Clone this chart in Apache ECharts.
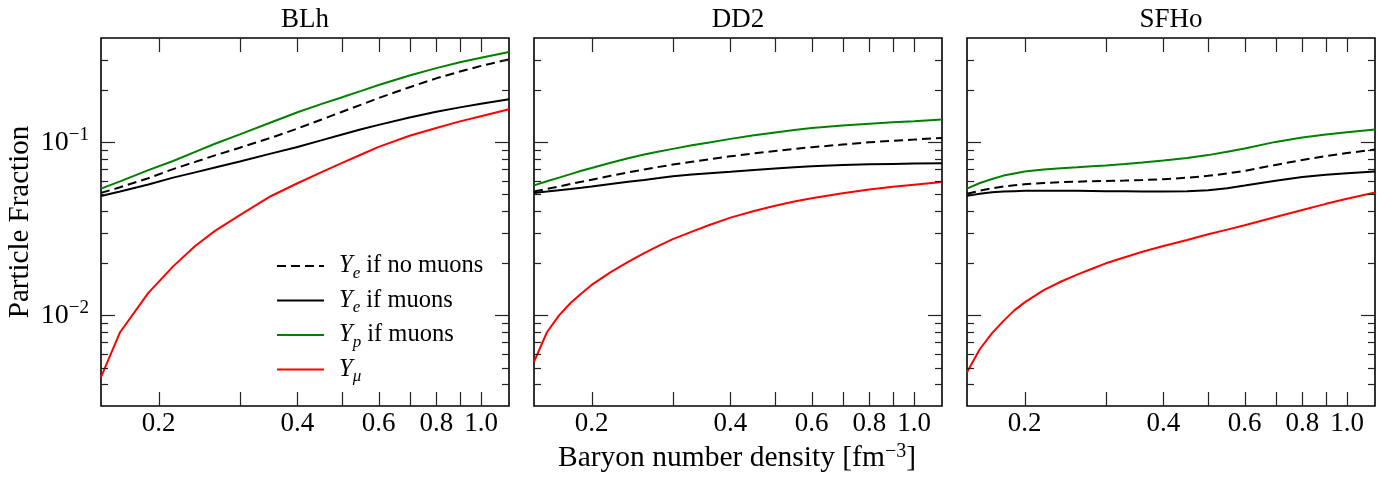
<!DOCTYPE html>
<html><head><meta charset="utf-8">
<script src="https://cdn.jsdelivr.net/npm/echarts@6/dist/echarts.min.js"></script>
<style>html,body{margin:0;padding:0;background:#fff}#c{width:1390px;height:477px}</style>
</head><body><div id="c"></div>
<script>
// ---------- data ----------
const blhDensities = [0.15, 0.165, 0.19, 0.215, 0.24, 0.265, 0.3, 0.35, 0.4, 0.45, 0.5, 0.55, 0.6, 0.7, 0.8, 0.9, 1.0, 1.15];
const densities = [0.15, 0.16, 0.17, 0.18, 0.19, 0.2, 0.22, 0.24, 0.26, 0.28, 0.3, 0.33, 0.36, 0.4, 0.45, 0.5, 0.55, 0.6, 0.7, 0.8, 0.9, 1.0, 1.15];
const panelTitles = ['BLh', 'DD2', 'SFHo'];
const seriesNames = ['ye_nomu', 'ye_mu', 'yp_mu', 'ymu'];
const legendLabels = ['{i|Y}{s|e} if no muons', '{i|Y}{s|e} if muons', '{i|Y}{s|p} if muons', '{i|Y}{s|μ}'];

// BLh (x = blhDensities)
const blhYeNoMuons = [0.051, 0.055, 0.062, 0.070, 0.077, 0.084, 0.093, 0.106, 0.120, 0.135, 0.150, 0.165, 0.180, 0.208, 0.234, 0.256, 0.276, 0.301];
const blhYeMuons   = [0.049, 0.052, 0.057, 0.0625, 0.067, 0.0715, 0.0775, 0.086, 0.094, 0.1025, 0.111, 0.119, 0.126, 0.139, 0.150, 0.159, 0.167, 0.177];
const blhYpMuons   = [0.054, 0.0595, 0.069, 0.078, 0.088, 0.098, 0.111, 0.130, 0.149, 0.166, 0.182, 0.198, 0.214, 0.243, 0.268, 0.290, 0.308, 0.332];
const blhYmu       = [0.0044, 0.0080, 0.0135, 0.0192, 0.0252, 0.0308, 0.038, 0.0488, 0.058, 0.067, 0.076, 0.085, 0.094, 0.109, 0.121, 0.132, 0.1415, 0.155];
// DD2 (x = densities)
const dd2YeNoMuons = [0.0520, 0.0538, 0.0556, 0.0574, 0.0591, 0.0608, 0.0640, 0.0670, 0.0697, 0.0721, 0.0743, 0.0772, 0.0797, 0.0830, 0.0862, 0.0890, 0.0915, 0.0936, 0.0970, 0.1000, 0.1020, 0.1036, 0.1060];
const dd2YeMuons   = [0.0509, 0.0519, 0.0529, 0.0538, 0.0547, 0.0556, 0.0574, 0.0591, 0.0606, 0.0621, 0.0636, 0.0651, 0.0663, 0.0676, 0.0692, 0.0706, 0.0717, 0.0726, 0.0738, 0.0746, 0.0750, 0.0753, 0.0756];
const dd2YpMuons   = [0.0564, 0.0595, 0.0625, 0.0655, 0.0684, 0.0711, 0.0762, 0.0808, 0.0849, 0.0884, 0.0916, 0.0960, 0.0998, 0.1046, 0.1098, 0.1140, 0.1178, 0.1210, 0.1250, 0.1280, 0.1305, 0.1324, 0.1353];
const dd2Ymu       = [0.0054, 0.0080, 0.0100, 0.0118, 0.0134, 0.0150, 0.0178, 0.0204, 0.0229, 0.0253, 0.0276, 0.0305, 0.0333, 0.0367, 0.0401, 0.0430, 0.0455, 0.0475, 0.0508, 0.0534, 0.0553, 0.0569, 0.0590];
// SFHo (x = densities)
const sfhoYeNoMuons = [0.0505, 0.0525, 0.0542, 0.0555, 0.0565, 0.0572, 0.0582, 0.0588, 0.0592, 0.0596, 0.0598, 0.0601, 0.0605, 0.0612, 0.0624, 0.0640, 0.0660, 0.0684, 0.0740, 0.0790, 0.0832, 0.0866, 0.0907];
const sfhoYeMuons   = [0.0491, 0.0505, 0.0514, 0.0519, 0.0522, 0.0524, 0.0525, 0.0525, 0.0524, 0.0523, 0.0522, 0.0521, 0.0520, 0.0520, 0.0522, 0.0529, 0.0543, 0.0562, 0.0600, 0.0630, 0.0650, 0.0663, 0.0679];
const sfhoYpMuons   = [0.0540, 0.0582, 0.0614, 0.0642, 0.0661, 0.0677, 0.0696, 0.0707, 0.0717, 0.0727, 0.0735, 0.0749, 0.0763, 0.0784, 0.0811, 0.0843, 0.0881, 0.0921, 0.1005, 0.1065, 0.1108, 0.1142, 0.1184];
const sfhoYmu       = [0.0047, 0.0064, 0.0079, 0.0093, 0.0107, 0.0119, 0.0140, 0.0157, 0.0172, 0.0186, 0.0200, 0.0217, 0.0233, 0.0252, 0.0273, 0.0294, 0.0313, 0.0332, 0.0370, 0.0406, 0.0441, 0.0472, 0.0513];

// axis ranges and ticks
const X_MIN = 0.15, X_MAX = 1.15;
const Y_MIN = 0.003, Y_MAX = 0.4;
const xTickValues = [0.2, 0.3, 0.4, 0.5, 0.6, 0.7, 0.8, 0.9, 1.0];
const xTickLabels = ['0.2', '', '0.4', '', '0.6', '', '0.8', '', '1.0'];
const yMajorTicks = [0.01, 0.1];
const yMajorExponents = ['−2', '−1'];
const yMinorTicks = [0.004, 0.005, 0.006, 0.007, 0.008, 0.009, 0.02, 0.03, 0.04, 0.05, 0.06, 0.07, 0.08, 0.09, 0.2, 0.3];

// ---------- layout / style ----------
const FONT = '"Liberation Serif", "Times New Roman", serif';
const GRID_LEFT = [101, 534, 967];
const GRID_W = 408, GRID_TOP = 38, GRID_H = 368;
const TICK_X = 14, TICK_MAJOR = 14, TICK_MINOR = 7;
const TICK_COLOR = '#222';
const COLORS = ['#000000', '#000000', '#008000', '#ff0000'];
const DASHES = [[9, 5], 'solid', 'solid', 'solid'];

const panels = [
  {x: blhDensities, ys: [blhYeNoMuons, blhYeMuons, blhYpMuons, blhYmu]},
  {x: densities, ys: [dd2YeNoMuons, dd2YeMuons, dd2YpMuons, dd2Ymu]},
  {x: densities, ys: [sfhoYeNoMuons, sfhoYeMuons, sfhoYpMuons, sfhoYmu]}
];

const grids = [], xAxes = [], yAxes = [], series = [];
panels.forEach((p, pi) => {
  grids.push({left: GRID_LEFT[pi], top: GRID_TOP, width: GRID_W, height: GRID_H,
    show: true, borderColor: '#000', borderWidth: 1.6, backgroundColor: 'transparent', containLabel: false});
  xAxes.push({type: 'log', logBase: 10, gridIndex: pi, min: X_MIN, max: X_MAX,
    axisLine: {show: false}, axisTick: {show: false}, axisLabel: {show: false}, splitLine: {show: false}, minorTick: {show: false}});
  yAxes.push({type: 'log', logBase: 10, gridIndex: pi, min: Y_MIN, max: Y_MAX,
    axisLine: {show: false}, axisTick: {show: false}, axisLabel: {show: false}, splitLine: {show: false}, minorTick: {show: false}});
  p.ys.forEach((arr, si) => {
    series.push({
      name: seriesNames[si], type: 'line', xAxisIndex: pi, yAxisIndex: pi,
      data: p.x.map((x, i) => [x, arr[i]]),
      symbol: 'none', showSymbol: false, smooth: false,
      lineStyle: {color: COLORS[si], width: 2, type: DASHES[si]},
      itemStyle: {color: COLORS[si]},
      z: 3, silent: true
    });
  });
  // x ticks (top & bottom) + labels
  series.push({
    type: 'custom', xAxisIndex: pi, yAxisIndex: pi, clip: false, silent: true, z: 5,
    data: xTickValues.map(v => [v, Y_MIN]),
    renderItem: (params, api) => {
      const v = api.value(0);
      const b = api.coord([v, Y_MIN]);
      const t = api.coord([v, Y_MAX]);
      const x = Math.round(b[0]) + 0.5;
      const children = [
        {type: 'line', shape: {x1: x, y1: b[1], x2: x, y2: b[1] - TICK_X}, style: {stroke: TICK_COLOR, lineWidth: 1.2}},
        {type: 'line', shape: {x1: x, y1: t[1], x2: x, y2: t[1] + TICK_X}, style: {stroke: TICK_COLOR, lineWidth: 1.2}}
      ];
      const lab = xTickLabels[params.dataIndex];
      if (lab) children.push({type: 'text', x: b[0], y: b[1] + 18,
        style: {text: lab, fontFamily: FONT, fontSize: 27, fill: '#000', align: 'center', verticalAlign: 'middle', textAlign: 'center', textVerticalAlign: 'middle'}});
      return {type: 'group', children};
    }
  });
  // y major ticks (+ labels on first panel)
  series.push({
    type: 'custom', xAxisIndex: pi, yAxisIndex: pi, clip: false, silent: true, z: 5,
    data: yMajorTicks.map(v => [X_MIN, v]),
    renderItem: (params, api) => {
      const v = api.value(1);
      const l = api.coord([X_MIN, v]);
      const r = api.coord([X_MAX, v]);
      const y = Math.round(l[1]) + 0.5;
      const children = [
        {type: 'line', shape: {x1: l[0], y1: y, x2: l[0] + TICK_MAJOR, y2: y}, style: {stroke: TICK_COLOR, lineWidth: 1.2}},
        {type: 'line', shape: {x1: r[0], y1: y, x2: r[0] - TICK_MAJOR, y2: y}, style: {stroke: TICK_COLOR, lineWidth: 1.2}}
      ];
      if (pi === 0) children.push({type: 'text', x: l[0] - 12, y: l[1],
        style: {text: '10{sup|' + yMajorExponents[params.dataIndex] + '}', fontFamily: FONT, fontSize: 28, lineHeight: 34, fill: '#000',
          align: 'right', verticalAlign: 'middle', textAlign: 'right', textVerticalAlign: 'middle',
          rich: {sup: {fontFamily: FONT, fontSize: 19, fill: '#000', verticalAlign: 'top'}}}});
      return {type: 'group', children};
    }
  });
  // y minor ticks
  series.push({
    type: 'custom', xAxisIndex: pi, yAxisIndex: pi, clip: false, silent: true, z: 5,
    data: yMinorTicks.map(v => [X_MIN, v]),
    renderItem: (params, api) => {
      const v = api.value(1);
      const l = api.coord([X_MIN, v]);
      const r = api.coord([X_MAX, v]);
      const y = Math.round(l[1]) + 0.5;
      return {type: 'group', children: [
        {type: 'line', shape: {x1: l[0], y1: y, x2: l[0] + TICK_MINOR, y2: y}, style: {stroke: TICK_COLOR, lineWidth: 1.2}},
        {type: 'line', shape: {x1: r[0], y1: y, x2: r[0] - TICK_MINOR, y2: y}, style: {stroke: TICK_COLOR, lineWidth: 1.2}}
      ]};
    }
  });
});

const textBase = {fontFamily: FONT, fill: '#000'};
const graphics = panelTitles.map((t, i) => ({
  type: 'text', x: GRID_LEFT[i] + GRID_W / 2, y: 20, silent: true,
  style: Object.assign({text: t, fontSize: 27, align: 'center', verticalAlign: 'middle', textAlign: 'center', textVerticalAlign: 'middle'}, textBase)
}));
graphics.push({
  type: 'text', x: 737, y: 458, silent: true,
  style: Object.assign({text: 'Baryon number density [fm{sup|−3}]', fontSize: 29.5, lineHeight: 32,
    align: 'center', verticalAlign: 'middle', textAlign: 'center', textVerticalAlign: 'middle',
    rich: {sup: {fontFamily: FONT, fontSize: 20, fill: '#000', verticalAlign: 'top'}}}, textBase)
});
graphics.push({
  type: 'text', x: 20, y: 222, rotation: Math.PI / 2, silent: true,
  style: Object.assign({text: 'Particle Fraction', fontSize: 29, align: 'center', verticalAlign: 'middle', textAlign: 'center', textVerticalAlign: 'middle'}, textBase)
});

const option = {
  animation: false,
  backgroundColor: '#fff',
  grid: grids, xAxis: xAxes, yAxis: yAxes, series: series,
  legend: {
    show: true, orient: 'vertical', left: 271, top: 245, itemWidth: 47, itemHeight: 14, itemGap: 2.5,
    selectedMode: false, data: seriesNames,
    itemStyle: {opacity: 0},
    formatter: name => legendLabels[seriesNames.indexOf(name)],
    textStyle: {fontFamily: FONT, fontSize: 24.5, color: '#000', lineHeight: 32, padding: [0, 0, 0, 10],
      rich: {
        i: {fontFamily: FONT, fontSize: 24.5, fontStyle: 'italic', color: '#000', lineHeight: 32},
        s: {fontFamily: FONT, fontSize: 17, fontStyle: 'italic', color: '#000', verticalAlign: 'bottom'}
      }}
  },
  graphic: graphics
};
const chart = echarts.init(document.getElementById('c'), null, {renderer: 'canvas', width: 1390, height: 477});
chart.setOption(option);
</script></body></html>
